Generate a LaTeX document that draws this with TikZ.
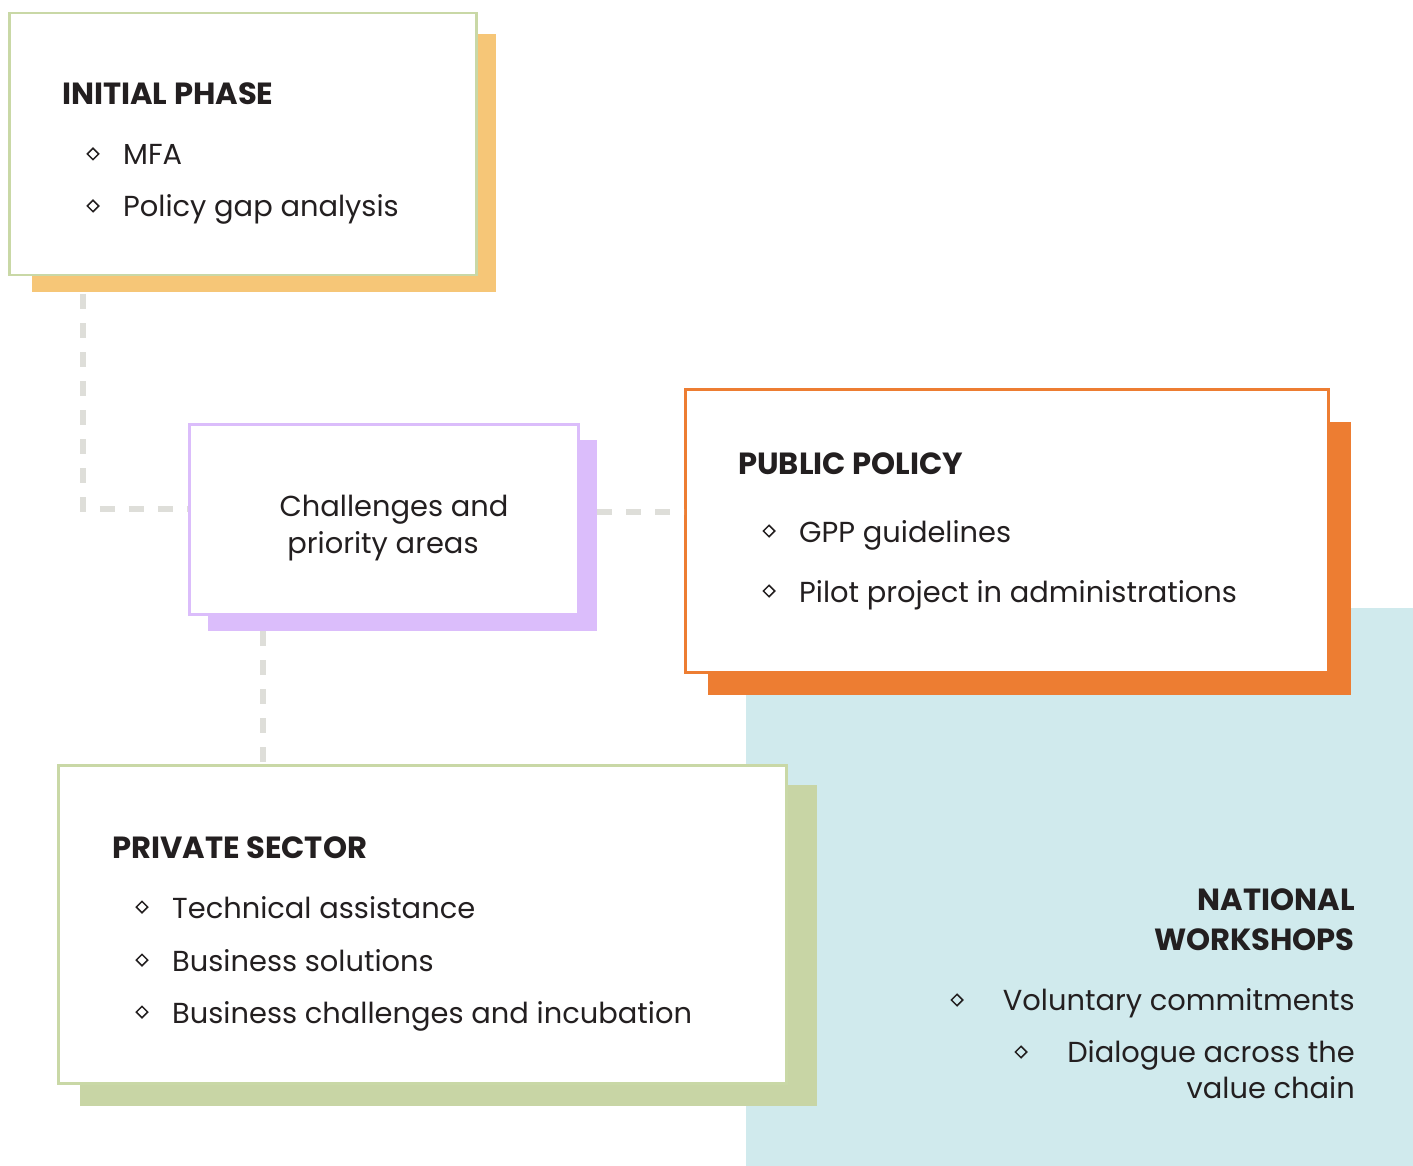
\documentclass[tikz,border=0pt]{standalone}
\usepackage{fontspec}
\setmainfont{Poppins}
\usetikzlibrary{shapes.geometric}
\definecolor{ink}{HTML}{231F20}
\definecolor{lgreen}{HTML}{C9D8A6}
\definecolor{sgreen}{HTML}{C8D5A5}
\definecolor{lorange}{HTML}{F6C677}
\definecolor{purp}{HTML}{DBBDFB}
\definecolor{orng}{HTML}{ED7D32}
\definecolor{teal}{HTML}{D0EAED}
\definecolor{dashc}{HTML}{DEDED9}
\begin{document}
\begin{tikzpicture}[x=1pt,y=-1pt,
  txt/.style={inner sep=0pt, text=ink, font=\fontsize{28.9}{34}\selectfont},
  head/.style={inner sep=0pt, text=ink, font=\fontsize{30.6}{36}\selectfont\bfseries},
  bul/.style={diamond, draw=ink, line width=1.5pt, inner sep=0pt, minimum size=12pt},
  dashln/.style={draw=dashc, line width=6pt, dash pattern=on 15pt off 14pt},
  card/.style={draw=#1, line width=2.5pt, fill=white, inner sep=0pt, anchor=north west}]
\useasboundingbox (0,0) rectangle (1413,1166);
% background teal panel
\fill[teal] (746,608) rectangle (1413,1166);
% connector anchors
\coordinate (c1) at (83,294);
\coordinate (c2) at (597,512);
\coordinate (c3) at (263,631);
% shadows
\fill[lorange] (32,34) rectangle (496,292);
\fill[purp] (208,440) rectangle (597,631);
\fill[orng] (708,422) rectangle (1351,695);
\fill[sgreen] (80,785) rectangle (817,1106);
% cards
\node[card=lgreen, minimum width=467pt, minimum height=262pt] (box1) at (8,12) {};
\node[card=purp, minimum width=389pt, minimum height=190pt] (box2) at (188,423) {};
\node[card=orng, minimum width=643pt, minimum height=283pt] (box3) at (684,388) {};
\node[card=lgreen, minimum width=728pt, minimum height=318pt] (box4) at (57,764) {};
% connectors
\draw[dashln] (c1) |- ([yshift=10pt]box2.west);
\draw[dashln] (c2) -- (c2 -| box3.west);
\draw[dashln] (c3) -- (c3 |- box4.north);
% INITIAL PHASE
\node[head, anchor=base west] (h1) at (62,105) {INITIAL PHASE};
\node[bul] (d1a) at (93,154) {};
\node[txt, anchor=base west] (t1a) at (123,165) {MFA};
\node[bul] (d1b) at (93,206) {};
\node[txt, anchor=base west] (t1b) at (123,217) {Policy gap analysis};
% Challenges
\node[txt, anchor=base] (t2a) at (394,516) {Challenges and};
\node[txt, anchor=base] (t2b) at (383,553) {priority areas};
% PUBLIC POLICY
\node[head, anchor=base west] (h3) at (738,474) {PUBLIC POLICY};
\node[bul] (d3a) at (769,531) {};
\node[txt, anchor=base west] (t3a) at (799,542) {GPP guidelines};
\node[bul] (d3b) at (769,591) {};
\node[txt, anchor=base west] (t3b) at (799,602) {Pilot project in administrations};
% PRIVATE SECTOR
\node[head, anchor=base west] (h4) at (112,858) {PRIVATE SECTOR};
\node[bul] (d4a) at (142,907) {};
\node[txt, anchor=base west] (t4a) at (172,918) {Technical assistance};
\node[bul] (d4b) at (142,960) {};
\node[txt, anchor=base west] (t4b) at (172,971) {Business solutions};
\node[bul] (d4c) at (142,1012) {};
\node[txt, anchor=base west] (t4c) at (172,1023) {Business challenges and incubation};
% NATIONAL WORKSHOPS
\node[head, anchor=base east] (h5a) at (1355,910) {NATIONAL};
\node[head, anchor=base east] (h5b) at (1355,950) {WORKSHOPS};
\node[bul] (d5a) at (957,1000) {};
\node[txt, anchor=base east] (t5a) at (1355,1010) {Voluntary commitments};
\node[bul] (d5b) at (1021,1052) {};
\node[txt, anchor=base east] (t5b) at (1355,1062) {Dialogue across the};
\node[txt, anchor=base east] (t5c) at (1355,1098) {value chain};
\end{tikzpicture}
\end{document}
